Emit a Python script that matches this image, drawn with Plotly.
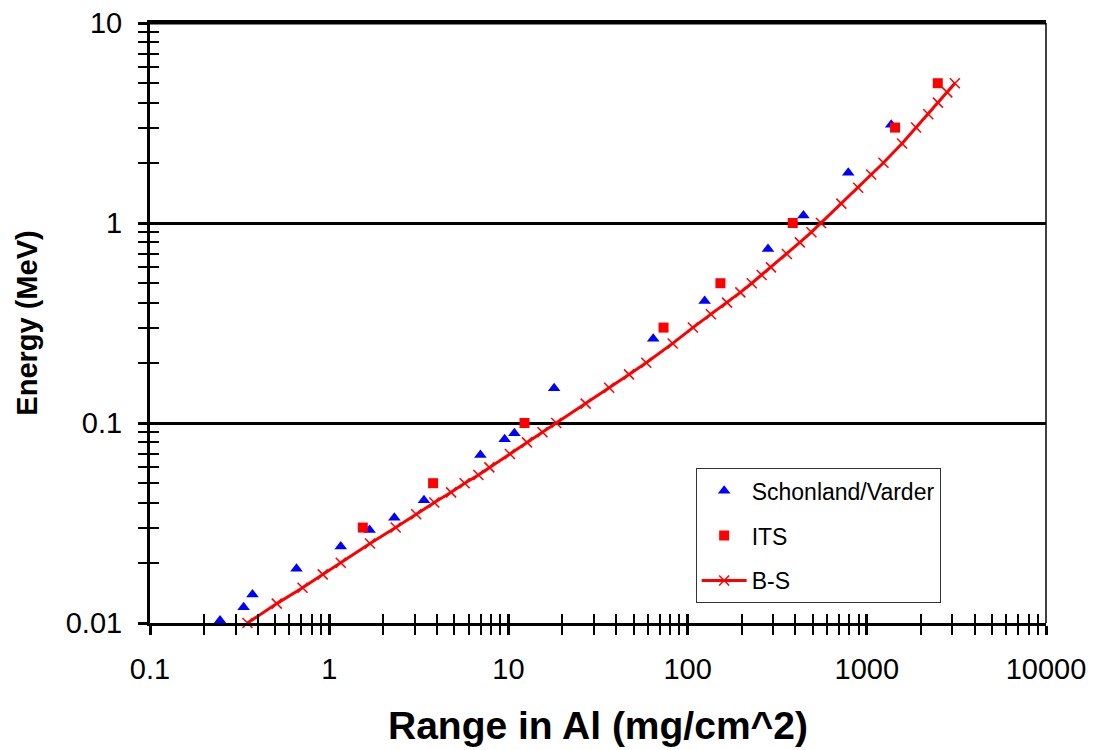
import plotly.graph_objects as go

# ---------------- data ----------------
sv_range = [0.246, 0.333, 0.373, 0.657, 1.16, 1.68, 2.31, 3.38, 6.98, 9.53, 10.8,
            18.0, 64.3, 124.5, 281, 443, 788, 1368]
sv_energy = [0.0103, 0.0120, 0.0139, 0.0187, 0.0241, 0.0292, 0.0336, 0.0411, 0.0692,
             0.0829, 0.0888, 0.149, 0.264, 0.407, 0.741, 1.09, 1.785, 3.10]

its_range = [1.54, 3.80, 12.3, 73.4, 152.5, 386, 1438, 2490]
its_energy = [0.03, 0.05, 0.1, 0.3, 0.5, 1.0, 3.0, 5.0]

bs_energy = [0.01, 0.0125, 0.015, 0.0175, 0.02, 0.025, 0.03, 0.035, 0.04, 0.045, 0.05,
             0.055, 0.06, 0.07, 0.08, 0.09, 0.1, 0.125, 0.15, 0.175, 0.2, 0.25, 0.3,
             0.35, 0.4, 0.45, 0.5, 0.55, 0.6, 0.7, 0.8, 0.9, 1.0, 1.25, 1.5, 1.75, 2.0,
             2.5, 3.0, 3.5, 4.0, 4.5, 5.0]
bs_range = [0.35, 0.51, 0.71, 0.92, 1.16, 1.69, 2.35, 3.06, 3.86, 4.79, 5.70,
            6.80, 7.83, 10.2, 12.7, 15.5, 18.5, 27.0, 36.5, 47.1, 58.8, 82.6, 107,
            135, 166, 197, 228, 259, 292, 358, 423, 491, 555, 721, 895, 1057, 1239,
            1573, 1884, 2204, 2494, 2813, 3100]

x_major = [0.1, 1, 10, 100, 1000, 10000]
x_major_text = ["0.1", "1", "10", "100", "1000", "10000"]
y_major = [0.01, 0.1, 1, 10]
y_major_text = ["0.01", "0.1", "1", "10"]

x_title = "Range in Al (mg/cm^2)"
y_title = "Energy (MeV)"

# ---------------------------------------------------------------------------
def minors(majors):
    out = []
    for m in majors[:-1]:
        out += [m * k for k in range(2, 10)]
    return out

x_minor = minors(x_major)
y_minor = minors(y_major)

FONT = "Liberation Sans, Arial, sans-serif"
BLUE = "#0000FF"
RED = "#FF0000"

fig = go.Figure()

fig.add_trace(go.Scatter(
    x=sv_range, y=sv_energy, mode="markers", name="Schonland/Varder",
    marker=dict(symbol="triangle-up", size=11, color=BLUE),
    cliponaxis=False, legendgroup="a"))
fig.add_trace(go.Scatter(
    x=its_range, y=its_energy, mode="markers", name="ITS",
    marker=dict(symbol="square", size=10, color=RED),
    cliponaxis=False, legendgroup="b"))
fig.add_trace(go.Scatter(
    x=bs_range, y=bs_energy, mode="lines+markers", name="B-S",
    line=dict(color=RED, width=3),
    marker=dict(symbol="x-thin", size=10, color=RED, line=dict(color=RED, width=1.5)),
    cliponaxis=False, legendgroup="c"))

# empty trace so the overlay axes (inside half of the crossing ticks) are drawn
fig.add_trace(go.Scatter(x=[], y=[], xaxis="x2", yaxis="y2", showlegend=False,
                         hoverinfo="skip"))

common_tick = dict(tickcolor="black", ticklen=9, tickwidth=3)

fig.update_layout(
    width=1099, height=750,
    margin=dict(l=150, r=53, t=23, b=127, autoexpand=False),
    paper_bgcolor="white", plot_bgcolor="white",
    font=dict(family=FONT, color="black"),
    showlegend=True,
    legend=dict(
        x=0.609, y=0.258, xanchor="left", yanchor="top",
        bgcolor="white", bordercolor="#333333", borderwidth=1,
        font=dict(family=FONT, size=23, color="black"),
        itemwidth=45, tracegroupgap=12, traceorder="grouped",
    ),
    xaxis=dict(
        type="log", range=[-1, 4], automargin=False,
        tickmode="array", tickvals=x_major, ticktext=x_major_text,
        ticks="outside", **common_tick,
        minor=dict(tickmode="array", tickvals=x_minor, ticks="outside",
                   ticklen=9, tickwidth=2, tickcolor="black", showgrid=False),
        tickfont=dict(family=FONT, size=29, color="black"),
        ticklabelstandoff=9,
        showline=True, linecolor="black", linewidth=3, mirror=True,
        showgrid=False, zeroline=False,
        title=dict(text="<b>" + x_title + "</b>",
                   font=dict(family=FONT, size=39, color="black"), standoff=28),
    ),
    yaxis=dict(
        type="log", range=[-2, 1.0001], automargin=False,
        tickmode="array", tickvals=y_major, ticktext=y_major_text,
        ticks="outside", **common_tick,
        minor=dict(tickmode="array", tickvals=y_minor, ticks="outside",
                   ticklen=9, tickwidth=2, tickcolor="black", showgrid=False),
        tickfont=dict(family=FONT, size=29, color="black"),
        ticklabelstandoff=10,
        showline=True, linecolor="black", linewidth=3,
        showgrid=True, gridcolor="black", gridwidth=3, zeroline=False,
        title=dict(text="<b>" + y_title + "</b>",
                   font=dict(family=FONT, size=29, color="black"), standoff=20),
    ),
    xaxis2=dict(
        type="log", range=[-1, 4], overlaying="x", anchor="y2", side="bottom",
        automargin=False,
        tickmode="array", tickvals=x_major, ticks="inside", **common_tick,
        minor=dict(tickmode="array", tickvals=x_minor, ticks="inside",
                   ticklen=9, tickwidth=2, tickcolor="black", showgrid=False),
        showticklabels=False, showgrid=False, showline=False, zeroline=False,
    ),
    yaxis2=dict(
        type="log", range=[-2, 1.0001], overlaying="y", anchor="x2", side="left",
        automargin=False,
        tickmode="array", tickvals=y_major, ticks="inside", **common_tick,
        minor=dict(tickmode="array", tickvals=y_minor, ticks="inside",
                   ticklen=9, tickwidth=2, tickcolor="black", showgrid=False),
        showticklabels=False, showgrid=False, showline=False, zeroline=False,
    ),
    shapes=[
        dict(type="line", xref="paper", yref="paper", x0=1, x1=1, y0=0, y1=1,
             line=dict(color="black", width=1.5)),
        dict(type="line", xref="paper", yref="paper", x0=0, x1=1, y0=1, y1=1,
             line=dict(color="black", width=3)),
    ],
)

fig.write_html(
    "out.html",
    config={"displayModeBar": False},
    post_script="document.body.style.margin='0';document.body.style.overflow='hidden';",
)
